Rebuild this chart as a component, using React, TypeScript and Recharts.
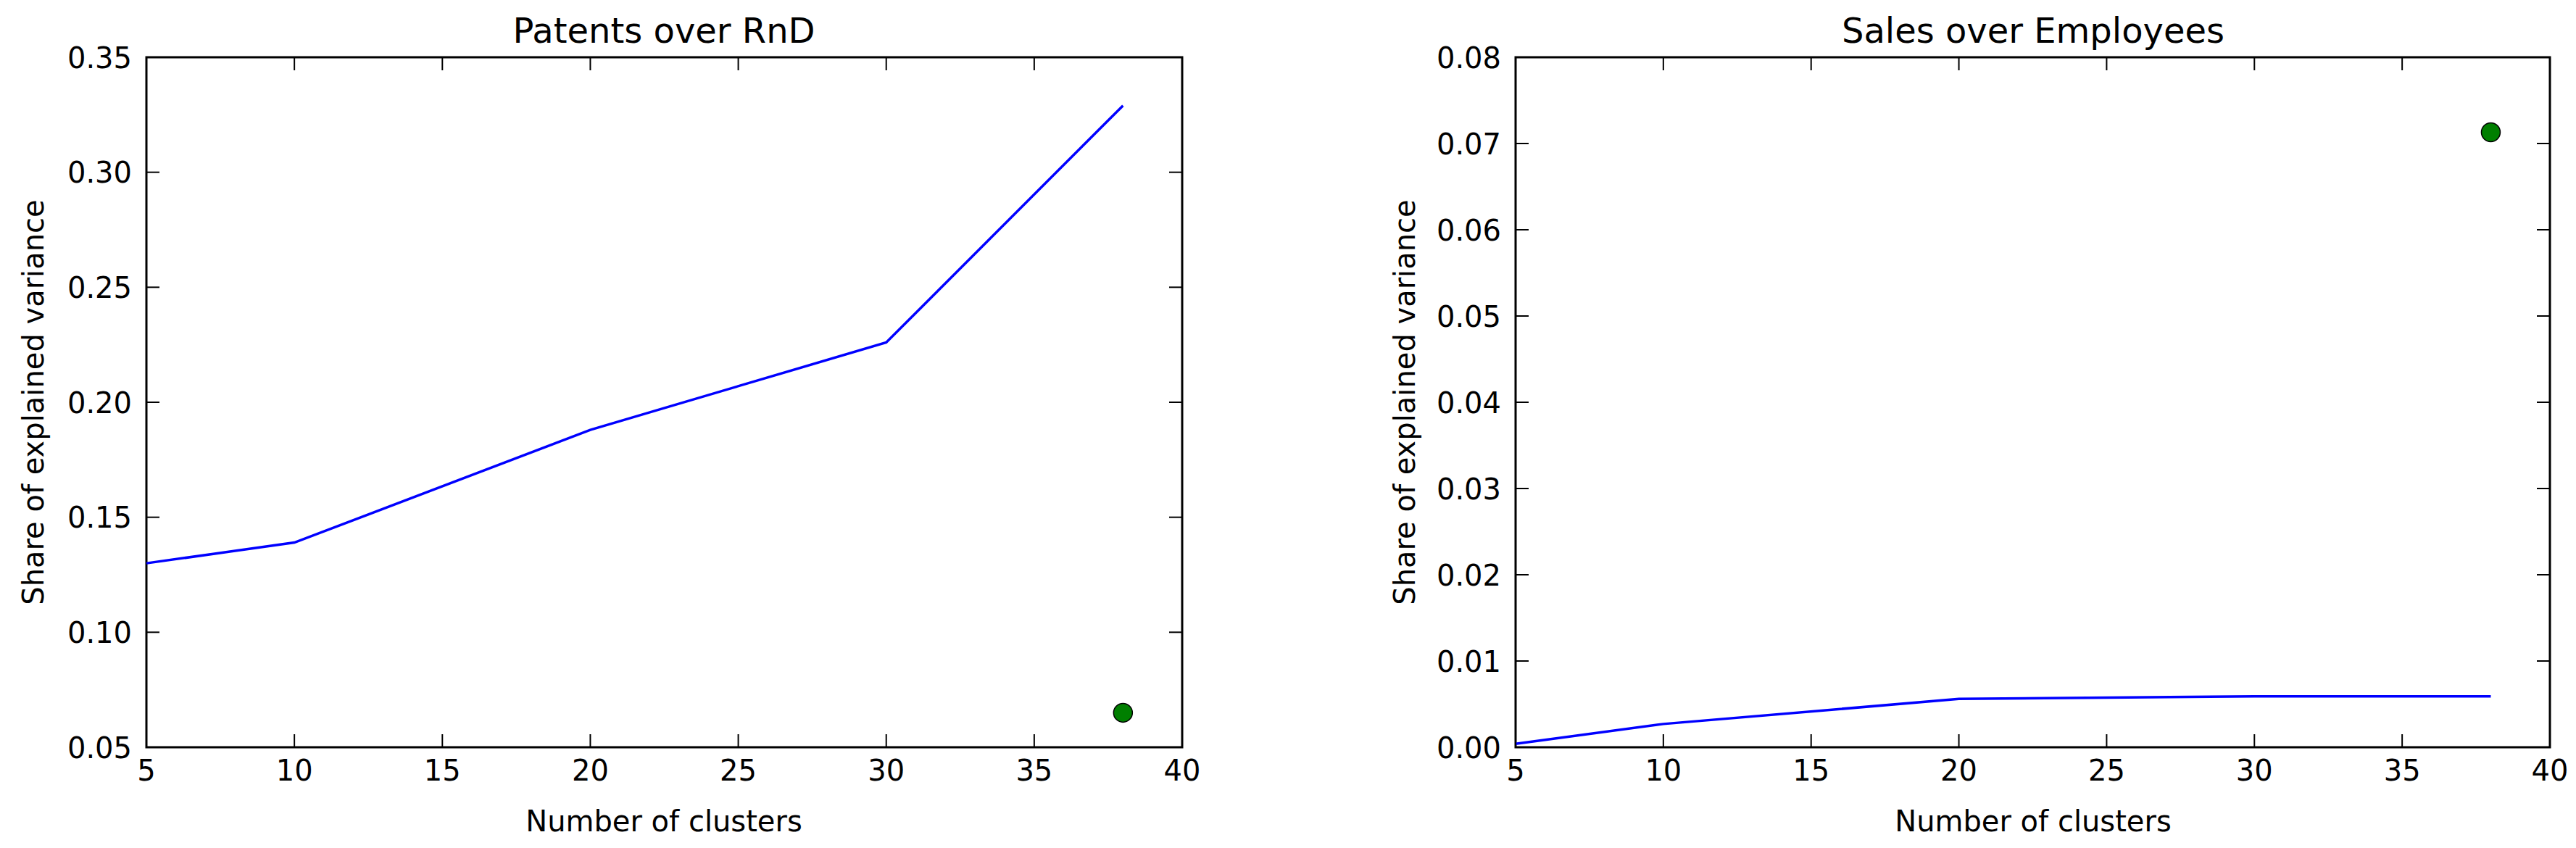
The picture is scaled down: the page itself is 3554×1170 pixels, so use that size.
import React from 'react';
import { ComposedChart, Line, Scatter, XAxis, YAxis, ReferenceArea } from 'recharts';

// number of clusters used in both panels
const clusters = [5, 10, 20, 30, 38];
const patentsShare = [0.13, 0.139, 0.188, 0.226, 0.329];
const salesShare = [0.0004, 0.0027, 0.0056, 0.0059, 0.0059];

// single marker drawn at the last cluster count
const markerCluster = 38;
const patentsMarker = 0.065;
const salesMarker = 0.0713;

const xTicks = [5, 10, 15, 20, 25, 30, 35, 40];
const patentsTicks = [0.05, 0.1, 0.15, 0.2, 0.25, 0.3, 0.35];
const salesTicks = [0, 0.01, 0.02, 0.03, 0.04, 0.05, 0.06, 0.07, 0.08];

const FONT = 'DejaVu Sans, sans-serif';
const PLOT_TOP = 79;
const TICK_LEN = 18;

const GreenDot = (props: any) => (
  <circle cx={props.cx} cy={props.cy} r={13} fill="#007f00" stroke="#000" strokeWidth={1.5} />
);

// matplotlib-classic style ticks: inward on all four sides
const makeXTick = () => (props: any) => {
  const { x, y, payload } = props;
  return (
    <g>
      <line x1={x} y1={y} x2={x} y2={y - TICK_LEN} stroke="#000" strokeWidth={2} />
      <line x1={x} y1={PLOT_TOP} x2={x} y2={PLOT_TOP + TICK_LEN} stroke="#000" strokeWidth={2} />
      <text x={x} y={y + 46} textAnchor="middle" fontSize={40} fontFamily={FONT} fill="#000">
        {payload.value}
      </text>
    </g>
  );
};

const makeYTick = (plotRight: number) => (props: any) => {
  const { x, y, payload } = props;
  return (
    <g>
      <line x1={x} y1={y} x2={x + TICK_LEN} y2={y} stroke="#000" strokeWidth={2} />
      <line x1={plotRight} y1={y} x2={plotRight - TICK_LEN} y2={y} stroke="#000" strokeWidth={2} />
      <text x={x - 20} y={y + 14.5} textAnchor="end" fontSize={40} fontFamily={FONT} fill="#000">
        {Number(payload.value).toFixed(2)}
      </text>
    </g>
  );
};

type PanelProps = {
  left: number;
  width: number;
  yWidth: number;
  marginRight: number;
  values: number[];
  marker: number;
  yDomain: [number, number];
  yTicks: number[];
};

const Panel = ({ left, width, yWidth, marginRight, values, marker, yDomain, yTicks }: PanelProps) => {
  const lineData = clusters.map((c, i) => ({ x: c, y: values[i] }));
  const dotData = [{ x: markerCluster, y: marker }];
  const plotRight = width - marginRight;
  return (
    <div style={{ position: 'absolute', left, top: 0 }}>
      <ComposedChart width={width} height={1170} margin={{ top: PLOT_TOP, right: marginRight, bottom: 0, left: 0 }}>
        <XAxis
          xAxisId="b"
          dataKey="x"
          type="number"
          domain={[5, 40]}
          ticks={xTicks}
          height={139}
          tickSize={0}
          tickMargin={0}
          axisLine={false}
          tickLine={false}
          tick={makeXTick()}
          interval={0}
        />
        <YAxis
          yAxisId="l"
          type="number"
          domain={yDomain}
          ticks={yTicks}
          width={yWidth}
          tickSize={0}
          tickMargin={0}
          axisLine={false}
          tickLine={false}
          tick={makeYTick(plotRight)}
          interval={0}
        />
        <ReferenceArea
          xAxisId="b"
          yAxisId="l"
          x1={5}
          x2={40}
          y1={yDomain[0]}
          y2={yDomain[1]}
          fill="none"
          fillOpacity={0}
          stroke="#000"
          strokeWidth={3}
          strokeOpacity={1}
          ifOverflow="visible"
        />
        <Line
          xAxisId="b"
          yAxisId="l"
          data={lineData}
          dataKey="y"
          type="linear"
          stroke="#0000ff"
          strokeWidth={3.5}
          dot={false}
          isAnimationActive={false}
        />
        <Scatter
          xAxisId="b"
          yAxisId="l"
          data={dotData}
          dataKey="y"
          shape={GreenDot}
          isAnimationActive={false}
        />
      </ComposedChart>
    </div>
  );
};

const App = () => {
  return (
    <div style={{ position: 'absolute', left: 0, top: 0, width: 3554, height: 1170, background: '#fff' }}>
      <Panel
        left={0}
        width={1700}
        yWidth={202}
        marginRight={69}
        values={patentsShare}
        marker={patentsMarker}
        yDomain={[0.05, 0.35]}
        yTicks={patentsTicks}
      />
      <Panel
        left={1800}
        width={1754}
        yWidth={291}
        marginRight={36}
        values={salesShare}
        marker={salesMarker}
        yDomain={[0, 0.08]}
        yTicks={salesTicks}
      />
      <svg
        width={3554}
        height={1170}
        style={{ position: 'absolute', left: 0, top: 0, pointerEvents: 'none' }}
        fontFamily={FONT}
        fill="#000"
      >
        <text x={916} y={59} textAnchor="middle" fontSize={48}>Patents over RnD</text>
        <text x={916} y={1147} textAnchor="middle" fontSize={40}>Number of clusters</text>
        <text transform="translate(60,555) rotate(-90)" textAnchor="middle" fontSize={40}>
          Share of explained variance
        </text>
        <text x={2805} y={59} textAnchor="middle" fontSize={48}>Sales over Employees</text>
        <text x={2805} y={1147} textAnchor="middle" fontSize={40}>Number of clusters</text>
        <text transform="translate(1952,555) rotate(-90)" textAnchor="middle" fontSize={40}>
          Share of explained variance
        </text>
      </svg>
    </div>
  );
};

export default App;
